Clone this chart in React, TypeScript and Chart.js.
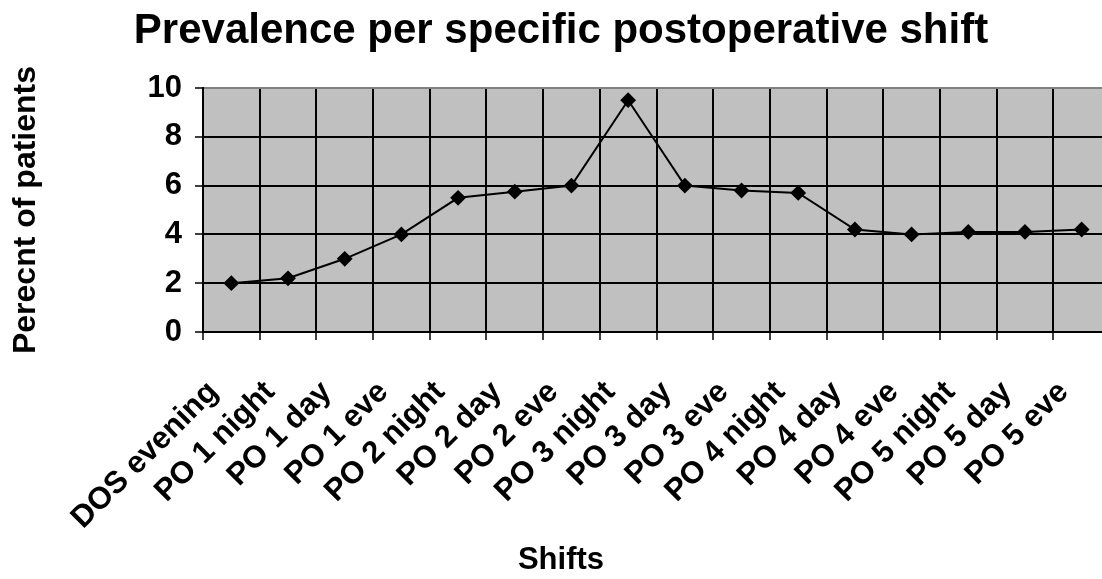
import React, { useEffect, useRef } from "react";
import { Chart, registerables } from "chart.js";

Chart.register(...registerables);

const categories = [
  "DOS evening", "PO 1 night", "PO 1 day", "PO 1 eve", "PO 2 night", "PO 2 day",
  "PO 2 eve", "PO 3 night", "PO 3 day", "PO 3 eve", "PO 4 night", "PO 4 day",
  "PO 4 eve", "PO 5 night", "PO 5 day", "PO 5 eve",
];
const prevalence = [2.0, 2.2, 3.0, 4.0, 5.5, 5.75, 6.0, 9.5, 6.0, 5.8, 5.7, 4.2, 4.0, 4.1, 4.1, 4.2];
const yTicks = [0, 2, 4, 6, 8, 10];

const titleText = "Prevalence per specific postoperative shift";
const yTitle = "Perecnt of patients";
const xTitle = "Shifts";

const FONT = "'Liberation Sans', Arial, sans-serif";

const plotBg = {
  id: "plotBg",
  beforeDraw(chart: any) {
    const { ctx, chartArea } = chart;
    if (!chartArea) return;
    ctx.save();
    ctx.fillStyle = "#c0c0c0";
    ctx.fillRect(chartArea.left, chartArea.top, chartArea.right - chartArea.left, chartArea.bottom - chartArea.top);
    ctx.restore();
  },
};

export default function App() {
  const ref = useRef<HTMLCanvasElement | null>(null);
  useEffect(() => {
    if (!ref.current) return;
    const chart = new Chart(ref.current, {
      type: "line",
      data: {
        labels: categories,
        datasets: [
          {
            data: prevalence,
            borderColor: "#000",
            backgroundColor: "#000",
            borderWidth: 2,
            pointStyle: "rectRot",
            pointRadius: 6.5,
            pointBackgroundColor: "#000",
            pointBorderColor: "#000",
            tension: 0,
            clip: false,
          },
        ],
      },
      plugins: [plotBg],
      options: {
        animation: false,
        responsive: true,
        maintainAspectRatio: false,
        layout: { autoPadding: false, padding: { left: 12, right: 0, top: 0, bottom: 0 } },
        plugins: {
          legend: { display: false },
          tooltip: { enabled: false },
          title: {
            display: true,
            text: titleText,
            color: "#000",
            font: { family: FONT, size: 42, weight: "bold", lineHeight: 1.2 },
            padding: { top: 6, bottom: 31.6 },
          },
          subtitle: {
            display: true,
            position: "bottom",
            text: xTitle,
            color: "#000",
            font: { family: FONT, size: 31, weight: "bold", lineHeight: 1.2 },
            padding: { top: 0, bottom: 0 },
          },
        },
        scales: {
          x: {
            type: "category",
            offset: true,
            afterFit: (s: any) => {
              s.height = 209.8;
              s.paddingLeft = 0;
              s.paddingRight = 0;
            },
            grid: {
              offset: true,
              color: "#000",
              lineWidth: 2,
              drawTicks: true,
              tickLength: 8,
              tickColor: "#000",
              tickWidth: 1.5,
            },
            border: { color: "#000", width: 2 },
            ticks: {
              color: "#000",
              font: { family: FONT, size: 31, weight: "bold" },
              minRotation: 45,
              maxRotation: 45,
              autoSkip: false,
              padding: 34,
              labelOffset: -18,
            },
          },
          y: {
            min: 0,
            max: 10,
            afterFit: (s: any) => { s.width = 191; },
            afterBuildTicks: (s: any) => { s.ticks = yTicks.map((v) => ({ value: v })); },
            grid: {
              color: (c: any) => (c.tick && c.tick.value === 10 ? "#808080" : "#000"),
              lineWidth: 2,
              drawTicks: true,
              tickLength: 8,
              tickColor: "#000",
              tickWidth: 1.5,
            },
            border: { color: "#000", width: 2 },
            ticks: {
              color: "#000",
              font: { family: FONT, size: 31, weight: "bold" },
              padding: 13,
            },
            title: {
              display: true,
              text: yTitle,
              color: "#000",
              font: { family: FONT, size: 32, weight: "bold", lineHeight: 1.2 },
              padding: { top: -5, bottom: 0 },
            },
          },
        },
      },
    });
    return () => chart.destroy();
  }, []);

  return (
    <div style={{ position: "fixed", left: 0, top: 0, width: 1102, height: 579, overflow: "hidden", background: "#fff" }}>
      <div style={{ position: "relative", width: 1110, height: 579 }}>
        <canvas ref={ref} />
      </div>
    </div>
  );
}
